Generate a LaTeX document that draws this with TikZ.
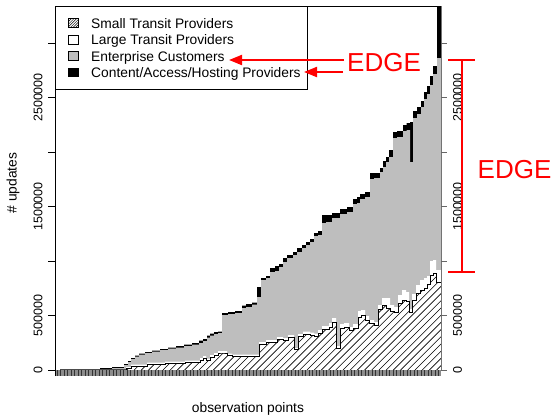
\documentclass[tikz,border=0pt]{standalone}
\usepackage{fontspec}
\setmainfont{Liberation Sans}
\usetikzlibrary{arrows.meta}
\definecolor{rgray}{HTML}{BEBEBE}
\definecolor{edgered}{HTML}{FF0000}
\tikzset{
  axnum/.style={font=\fontsize{12.5}{14}\selectfont, rotate=90, inner sep=0pt},
  lbl/.style={font=\fontsize{13.8}{16}\selectfont, inner sep=0pt},
  legtxt/.style={font=\fontsize{13.8}{16}\selectfont, anchor=base west, inner sep=0pt},
  legbox/.style={draw=black, line width=0.6pt, minimum width=10pt, minimum height=8.5pt, inner sep=0pt},
  edgetxt/.style={text=edgered, font=\fontsize{26}{30}\selectfont, inner sep=0pt},
  redarrow/.style={draw=edgered, line width=2pt, -{Triangle[length=13pt,width=10pt]}},
  redline/.style={draw=edgered, line width=2pt},
  tickln/.style={line width=1.1pt, black!80},
  axline/.style={line width=0.7pt, black},
}
% x_end / stack top / black thickness
\def\stacklist{75/370/0, 88/369.5/0.5, 100/369/0.8, 112/368/1, 124/367/1, 128/364/1, 131/361/1, 135/358/1, 139/355.5/1.2, 145/353.5/1.2, 152/352/1.2, 160/350.5/1.2, 168/349/1.2, 176/347.5/1.2, 184/346/1.5, 192/344.5/1.5, 199/343/1.5, 203/340.5/2.5, 207/339/2, 210/335.5/2, 214/333.5/2, 218/332/2, 222/331.5/1.5, 228/313/2, 235/312/2, 242/311/2, 246/305.5/2.5, 252/304/3, 257/302.5/2, 261/287/10, 266/278/2, 270/276/2, 275/268/4, 279/266/5, 283/264/3, 287/258/4, 293/255/3, 297/252/3, 302/248/4, 306/245/3, 310/242/3, 314/239/3, 318/233/3, 322/231/4, 326/215/8, 332/215/7, 340/213/5, 347/209/5, 353/207/5, 357/199/5, 360/197/6, 365/194/5, 370/192/5, 374/173/6, 380/173/5, 383/168/4, 386/161/6, 389/157/5, 393/150/7, 397/132/6, 403/131/6, 406.5/125/6, 410/123/7, 413/122/40, 417/111/7, 421/107/7, 424/101/6, 427/92/7, 430/86/8, 433/76/9, 437/66/8, 441/6/52}
% x_end / hatched top / white thickness
\def\hatchlist{131/368/1, 147/366/1.5, 165/364/1.5, 185/363/1.5, 200/362/1.5, 203/360/2, 206/358/2, 210/360/1.5, 214/357/2, 218/355/2, 222/353/2, 227/353/2, 232/355/1.5, 259/356/1.5, 266/344/2, 277/342/2, 283/339/2, 288/340/2, 294/337/2, 298/349/1, 303/336/2, 310/334/2.5, 314/335/2.5, 318/336/2.5, 322/333/3, 329/329/3, 332/327/4, 336/322/4, 340/348/2, 344/328/4, 349/327/4, 353/330/3, 358/328/4, 361/317/6, 365/315/5, 369/320/4, 374/323/3, 378/325/3, 382/309/4, 386/305/7, 390/308/10, 394/311/6, 398/312/5, 402/303/8, 406/300/10, 409/301/9, 412/312/3, 416/300/6, 420/293/8, 424/290/10, 427/288/10, 430/284/8, 433/275/14, 436/273/13, 441/282/12}
\begin{document}
\begin{tikzpicture}[x=1pt,y=-1pt]
\useasboundingbox (0,0) rectangle (552,416);
% stacked layers
\fill[black] (55.5,370) \foreach \x/\t/\d in \stacklist {|- (\x,\t)} -- (441,370) -- cycle;
\fill[rgray] (55.5,370) \foreach \x/\t/\d in \stacklist {|- (\x,{\t+\d})} -- (441,370) -- cycle;
\fill[white] (126,370) \foreach \x/\h/\w in \hatchlist {|- (\x,{\h-\w})} -- (441,370) -- cycle;
\begin{scope}
  \clip (126,370) \foreach \x/\h/\w in \hatchlist {|- (\x,\h)} -- (441,370) -- cycle;
  \foreach \k in {-12,...,56} \draw[line width=0.6pt] ({55+7.2*\k},370) -- ++(400,-400);
\end{scope}
\draw[line width=0.7pt, line join=miter] (126,370) \foreach \x/\h/\w in \hatchlist {|- (\x,\h)};
\draw[black!70, line width=0.8pt] (60,369.2) -- (126,369.2);
% bottom tick strip
\fill[black!45] (55,370) rectangle (441,376);
\foreach \i in {0,...,109} \draw[tickln] ({57.25+3.5*\i},370) -- ++(0,6);
% axes
\draw[axline] (55,376) -- (55,6) -- (441,6);
\draw[line width=0.8pt, black!55] (441,6) -- (441,370);
\foreach \v in {370,315.5,261,206.5,152,97.5,43} {
  \draw[axline] (55,\v) -- (48,\v);
  \draw[line width=0.7pt, black!60] (441,\v) -- (447,\v);
}
\node[axnum] (l0) at (38,370) {0};
\node[axnum] (l1) at (38,315.5) {500000};
\node[axnum] (l2) at (38,206.5) {1500000};
\node[axnum] (l3) at (38,97.5) {2500000};
\node[axnum] (r0) at (457.5,370) {0};
\node[axnum] (r1) at (457.5,315.5) {500000};
\node[axnum] (r2) at (457.5,206.5) {1500000};
\node[axnum] (r3) at (457.5,97.5) {2500000};
\node[lbl, rotate=90] (ylab) at (13,183) {\# updates};
\node[lbl] (xlab) at (248,409) {observation points};
% legend
\draw[line width=0.7pt, fill=white] (55,6) rectangle (307,89);
\node[legbox, path picture={\foreach \k in {-4,...,4} \draw[line width=0.45pt] ([xshift=\k*2.6pt]path picture bounding box.south west) -- ++(12,-12);}] (s1) at (73,23) {};
\node[legbox, fill=white] (s2) at (73,40) {};
\node[legbox, fill=rgray] (s3) at (73,56) {};
\node[legbox, fill=black] (s4) at (73,72.5) {};
\node[legtxt] (t1) at (91,28) {Small Transit Providers};
\node[legtxt] (t2) at (91,44.5) {Large Transit Providers};
\node[legtxt] (t3) at (91,61) {Enterprise Customers};
\node[legtxt] (t4) at (91,77.5) {Content/Access/Hosting Providers};
% annotations
\node[edgetxt] (edge1) at (384,63) {EDGE};
\node[edgetxt] (edge2) at (514.5,169.5) {EDGE};
\coordinate (a1s) at (344,60);
\coordinate (a1e) at (229,60);
\coordinate (a2s) at (343,72);
\coordinate (a2e) at (304,72);
\draw[redarrow] (a1s) -- (a1e);
\draw[redarrow] (a2s) -- (a2e);
\coordinate (btop) at (461.5,59.5);
\coordinate (bbot) at (461.5,271.5);
\draw[redline] (btop) -- (bbot);
\draw[redline] ([xshift=-13.5pt]btop) -- ([xshift=13.5pt]btop);
\draw[redline] ([xshift=-13.5pt]bbot) -- ([xshift=13.5pt]bbot);
\end{tikzpicture}
\end{document}
